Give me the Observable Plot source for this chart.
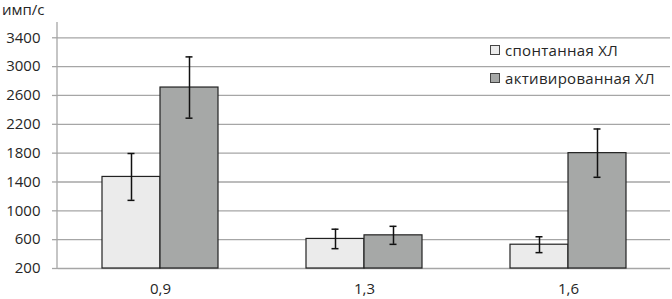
<!DOCTYPE html>
<html>
<head>
<meta charset="utf-8">
<script src="https://cdn.jsdelivr.net/npm/d3@7"></script>
<script src="https://cdn.jsdelivr.net/npm/@observablehq/plot@0.6"></script>
<style>
  html, body { margin: 0; padding: 0; background: #fff; }
  #wrap { position: relative; width: 672px; height: 299px; font-family: "Open Sans", sans-serif; color: #262626; }
  #ylab { position: absolute; left: 2px; top: 0px; font-size: 15px; line-height: 18px; }
  #legend { position: absolute; left: 490px; top: 39px; font-size: 15px; }
  .row { position: absolute; left: 0; white-space: nowrap; display: flex; align-items: center; height: 22px; letter-spacing: 0.3px; }
  .sw { width: 8px; height: 8px; border: 1px solid #444; margin-right: 5px; }
</style>
</head>
<body>
<div id="wrap">
  <div id="chart"></div>
  <div id="ylab">имп/с</div>
  <div id="legend"></div>
</div>
<script>
const categories = ["0,9", "1,3", "1,6"];
const series = ["спонтанная ХЛ", "активированная ХЛ"];
const spontValues = [1470, 610, 530];
const spontErrors = [325, 135, 110];
const activValues = [2710, 660, 1800];
const activErrors = [425, 125, 335];
const yTicks = [200, 600, 1000, 1400, 1800, 2200, 2600, 3000, 3400];
const colors = ["#ebebeb", "#a6a8a7"];

const rows = [];
categories.forEach((c, i) => {
  rows.push({cat: c, series: series[0], value: spontValues[i], err: spontErrors[i]});
  rows.push({cat: c, series: series[1], value: activValues[i], err: activErrors[i]});
});

const lo = d => d.value - d.err;
const hi = d => d.value + d.err;

const plot = Plot.plot({
  width: 672,
  height: 299,
  marginLeft: 57,
  marginRight: 1.5,
  marginTop: 22,
  marginBottom: 31,
  style: {fontFamily: "Open Sans, sans-serif", fontSize: "15px", color: "#262626", background: "white"},
  fx: {domain: categories, padding: 0, label: null},
  x: {domain: series, paddingInner: 0, paddingOuter: 0.754, axis: null},
  y: {domain: [200, 3612], axis: null},
  color: {domain: series, range: colors},
  marks: [
    Plot.gridY(yTicks, {stroke: "#a6a6a6", strokeOpacity: 1, strokeWidth: 1.3}),
    Plot.axisY(yTicks, {tickSize: 6, tickPadding: 12, stroke: "#a6a6a6", fill: "#262626", strokeWidth: 1.3, label: null, tickFormat: d => String(d), fontSize: 15}),
    Plot.axisFx({anchor: "bottom", tickSize: 0, tickPadding: 15, label: null, fill: "#262626", fontSize: 15}),
    Plot.barY(rows, {fx: "cat", x: "series", y1: 200, y2: "value", fill: "series", stroke: "#222", strokeWidth: 1.2}),
    Plot.ruleX(rows, {fx: "cat", x: "series", y1: lo, y2: hi, stroke: "#111", strokeWidth: 1.5}),
    Plot.tickY(rows, {fx: "cat", x: "series", y: lo, insetLeft: 25.5, insetRight: 25.5, stroke: "#111", strokeWidth: 1.5}),
    Plot.tickY(rows, {fx: "cat", x: "series", y: hi, insetLeft: 25.5, insetRight: 25.5, stroke: "#111", strokeWidth: 1.5})
  ]
});

document.getElementById("chart").appendChild(plot);

// left axis line
const ys = plot.scale("y");
d3.select(plot).append("line")
  .attr("x1", 57).attr("x2", 57)
  .attr("y1", ys.apply(3612)).attr("y2", ys.apply(200))
  .attr("stroke", "#a6a6a6").attr("stroke-width", 1.3);

// legend
const legend = document.getElementById("legend");
series.forEach((s, i) => {
  const row = document.createElement("div");
  row.className = "row";
  row.style.top = (i * 28) + "px";
  const sw = document.createElement("div");
  sw.className = "sw";
  sw.style.background = colors[i];
  const t = document.createElement("span");
  t.textContent = s;
  row.appendChild(sw);
  row.appendChild(t);
  legend.appendChild(row);
});
</script>
</body>
</html>
